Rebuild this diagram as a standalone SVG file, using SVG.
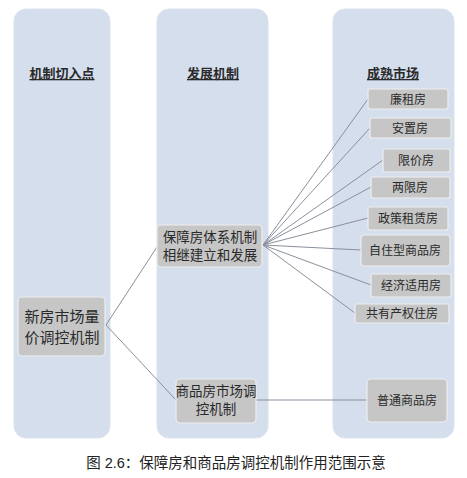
<svg xmlns="http://www.w3.org/2000/svg" width="467" height="478" viewBox="0 0 467 478">
<style>
.col{fill:#d4deec;stroke:#dbe3ef;stroke-width:1}
.box{fill:#c6c6c6;stroke:#eeeeee;stroke-width:1.2}
text{font-family:"Liberation Sans","Noto Sans CJK SC",sans-serif;fill:#2a2a2a;text-anchor:middle}
.hd{font-size:13px;font-weight:bold;text-decoration:underline}
.s{font-size:12px}
.m{font-size:13.5px}
.l{font-size:15px}
.cap{font-size:14.5px;fill:#222}
#conn line{stroke:#8a909c;stroke-width:1}
</style>
<rect width="467" height="478" fill="#ffffff"/>
<g id="columns">
<rect class="col" x="14" y="9" width="96" height="429" rx="12"/>
<rect class="col" x="157" y="9" width="111" height="429" rx="12"/>
<rect class="col" x="333" y="9" width="121" height="429" rx="12"/>
</g>
<g id="headers">
<text class="hd" x="62" y="78">机制切入点</text>
<text class="hd" x="213" y="78">发展机制</text>
<text class="hd" x="393" y="78">成熟市场</text>
</g>
<g id="conn">
<line x1="106" y1="325" x2="157" y2="247"/>
<line x1="106" y1="325" x2="176" y2="400"/>
<line x1="263" y1="245" x2="368" y2="99"/>
<line x1="263" y1="245" x2="370" y2="128"/>
<line x1="263" y1="245" x2="383" y2="160"/>
<line x1="263" y1="245" x2="371" y2="187"/>
<line x1="263" y1="245" x2="368" y2="218"/>
<line x1="263" y1="245" x2="361" y2="250"/>
<line x1="263" y1="245" x2="371" y2="285"/>
<line x1="263" y1="245" x2="355" y2="313"/>
<line x1="256" y1="400" x2="367" y2="400"/>
</g>
<g id="n-left">
<rect class="box" x="18" y="297" width="87" height="59" rx="4"/>
<text class="l" x="62" y="322">新房市场量</text>
<text class="l" x="62" y="343">价调控机制</text>
</g>
<g id="n-baozhang">
<rect class="box" x="157" y="225" width="105" height="42" rx="4"/>
<text class="m" x="210" y="242">保障房体系机制</text>
<text class="m" x="210" y="260">相继建立和发展</text>
</g>
<g id="n-shangpin">
<rect class="box" x="176" y="379" width="80" height="44" rx="4"/>
<text class="m" x="216" y="396">商品房市场调</text>
<text class="m" x="216" y="414">控机制</text>
</g>
<g id="n-lianzu"><rect class="box" x="368" y="89" width="80" height="20" rx="2"/><text class="s" x="408" y="103.5">廉租房</text></g>
<g id="n-anzhi"><rect class="box" x="370" y="118" width="81" height="20" rx="2"/><text class="s" x="410" y="132.5">安置房</text></g>
<g id="n-xianjia"><rect class="box" x="383" y="149" width="67" height="23" rx="2"/><text class="s" x="416" y="165">限价房</text></g>
<g id="n-liangxian"><rect class="box" x="371" y="177" width="79" height="21" rx="2"/><text class="s" x="410" y="192">两限房</text></g>
<g id="n-zhengce"><rect class="box" x="368" y="207" width="80" height="23" rx="2"/><text class="s" x="408" y="223">政策租赁房</text></g>
<g id="n-zizhu"><rect class="box" x="361" y="235" width="89" height="31" rx="3"/><text class="s" x="405" y="255">自住型商品房</text></g>
<g id="n-jingji"><rect class="box" x="371" y="274" width="80" height="23" rx="2"/><text class="s" x="411" y="290">经济适用房</text></g>
<g id="n-gongyou"><rect class="box" x="355" y="304" width="94" height="19" rx="2"/><text class="s" x="402" y="318">共有产权住房</text></g>
<g id="n-putong"><rect class="box" x="367" y="379" width="80" height="43" rx="4"/><text class="s" x="407" y="405">普通商品房</text></g>
<text class="cap" x="236" y="468">图 2.6：保障房和商品房调控机制作用范围示意</text>
</svg>
